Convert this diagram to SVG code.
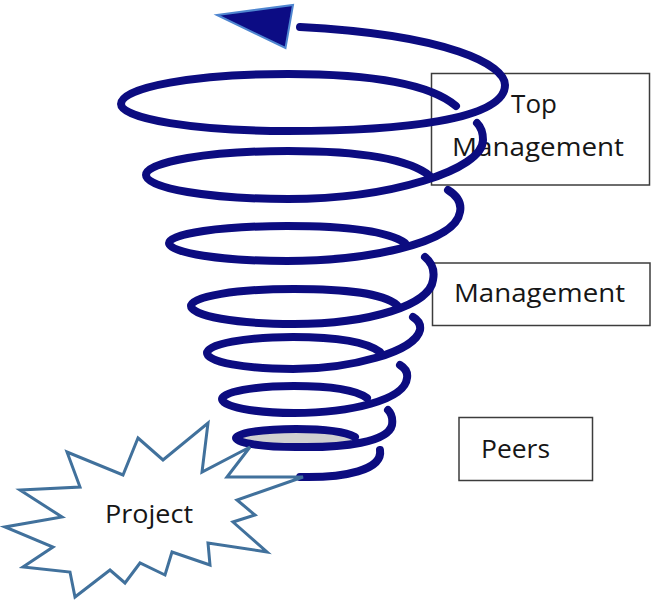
<svg xmlns="http://www.w3.org/2000/svg" width="651" height="602" viewBox="0 0 651 602">
<style>
  .box { fill: #ffffff; stroke: #3c3c3c; stroke-width: 1.5; }
  .lbl { font-family: "Open Sans", "Liberation Sans", sans-serif; font-size: 26px; fill: #161616; }
  .coil { fill: none; stroke: #0c0c80; stroke-width: 8; stroke-linecap: round; stroke-linejoin: round; }
  .burst { fill: #ffffff; stroke: #41719c; stroke-width: 3; stroke-linejoin: miter; }
</style>
<rect x="0" y="0" width="651" height="602" fill="#ffffff"/>

<g id="node-top-management">
  <rect class="box" x="431.5" y="73.5" width="218" height="111.5"/>
  <text class="lbl" x="534" y="113" text-anchor="middle">Top</text>
  <text class="lbl" x="452" y="155.5" textLength="172" lengthAdjust="spacingAndGlyphs">Management</text>
</g>

<g id="node-management">
  <rect class="box" x="432.5" y="263" width="217.5" height="62.5"/>
  <text class="lbl" x="454" y="302" textLength="171" lengthAdjust="spacingAndGlyphs">Management</text>
</g>

<g id="node-peers">
  <rect class="box" x="459" y="417.5" width="133.5" height="63"/>
  <text class="lbl" x="481" y="458" textLength="69" lengthAdjust="spacingAndGlyphs">Peers</text>
</g>

<g id="connectors">
  <!-- gray base of the funnel -->
  <ellipse cx="296" cy="438" rx="60" ry="9" fill="#d0d0d0"/>
  <!-- level 1 with top arc -->
  <path class="coil" d="M456,106 C430,84 370,74 288,74 C196,74 121,87 121,104 C121,119 196,131 288,131 C400,131 505,120 505,85 C505,65 450,35 300,27"/>
  <!-- level 2 -->
  <path class="coil" d="M430,176 C408,158 359,151 288,151 C209.6,151 146,161.7 146,175 C146,188.3 209.6,199 288,199 C390,199 483,170 483,140 C483,132 481,127 477,123"/>
  <!-- level 3 -->
  <path class="coil" d="M405,243 C388,231 346,226 287,226 C221.8,226 169,233.6 169,243 C169,252.9 221.8,261 287,261 C360,261 455,245 460,212 C462,202 456,195 448,190"/>
  <!-- level 4 -->
  <path class="coil" d="M397,305 C382,293 346,289 294,289 C237,289 191,296.3 191,306 C191,316 237,324 294,324 C370,324 430,305 433,280 C435,270 431,262 425,257"/>
  <!-- level 5 -->
  <path class="coil" d="M380,352 C367,342 336,337 293,337 C245.5,337 207,344 207,353 C207,362 245.5,369 293,369 C350,369 415,352 420,330 C421,324 418,320 413,317"/>
  <!-- level 6 -->
  <path class="coil" d="M367,398 C356,390 330,386 294,386 C254,386 222,392 222,399 C222,406.5 254,413 294,413 C350,413 405,400 407,378 C408,372 405,368 400,365"/>
  <!-- level 7 -->
  <path class="coil" d="M355,437 C346,432 326,429 296,429 C263,429 236,433 236,438 C236,443 263,447 296,447 C345,448 388,442 392,425 C393,418 391,413 388,410"/>
  <!-- bottom start -->
  <path class="coil" d="M300,477 C345,478 383,470 380,450"/>
  <!-- arrowhead -->
  <polygon points="217,15 293,5 285.5,48" fill="#0c0c84" stroke="#4f86d0" stroke-width="2" stroke-linejoin="miter"/>
</g>

<g id="node-project">
  <polygon class="burst" points="138,438 163,460 208,423 202,472 250,447 227,477 303,477 237,500 255,515 233,522 267,552 208,543 210,565 172,552 165,575 140,563 125,583 110,570 75,597 70,572 23,567 53,547 5,527 62,517 20,490 80,487 67,452 123,475"/>
  <text class="lbl" x="105" y="523" textLength="88" lengthAdjust="spacingAndGlyphs">Project</text>
</g>
</svg>
